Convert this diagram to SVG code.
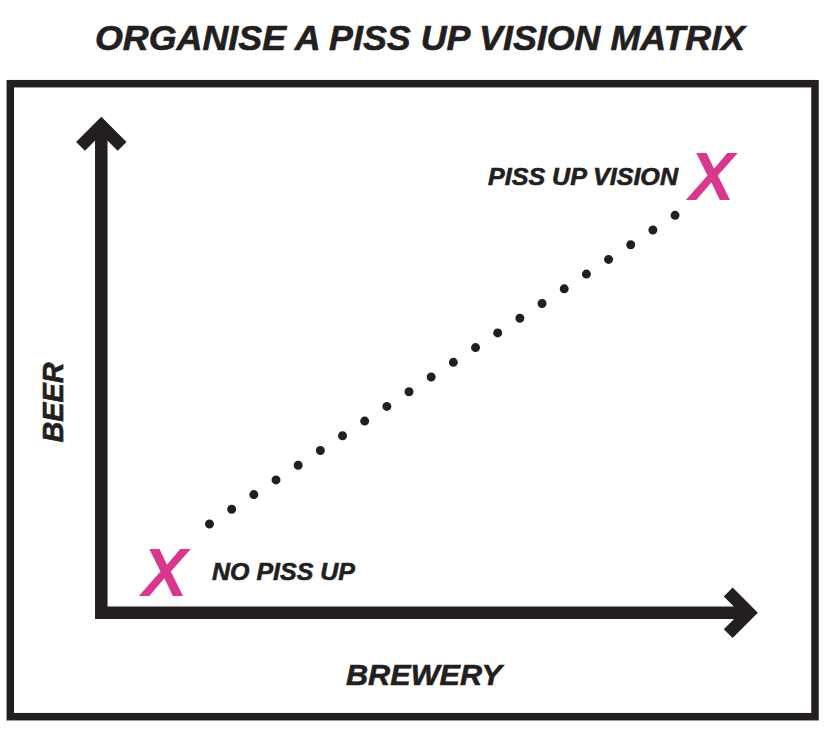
<svg xmlns="http://www.w3.org/2000/svg" width="830" height="730" viewBox="0 0 830 730">
<style>
.lbl{font-family:"Liberation Sans","DejaVu Sans",sans-serif;font-weight:bold;font-style:italic;fill:#231F20;stroke:#231F20;stroke-width:0.6}
.mark{font-family:"Liberation Sans","DejaVu Sans",sans-serif;font-weight:bold;font-style:italic;fill:#D9368E}
.ax{fill:none;stroke:#231F20;stroke-width:12.5;stroke-linejoin:miter;stroke-linecap:butt}
</style>
<rect width="830" height="730" fill="#FFFFFF"/>
<g id="title">
<text class="lbl" x="95" y="50" font-size="35" textLength="650" lengthAdjust="spacingAndGlyphs">ORGANISE A PISS UP VISION MATRIX</text>
</g>
<g id="frame">
<rect x="10.3" y="83.7" width="804.7" height="633" fill="none" stroke="#231F20" stroke-width="7.5"/>
</g>
<g id="connectors">
<path class="ax" d="M101.3,125.5 V612.8 H749"/>
<polyline class="ax" points="80.5,146.3 101.3,125.5 122.1,146.3"/>
<polyline class="ax" points="728.2,592 749,612.8 728.2,633.6"/>
<line x1="209.5" y1="524" x2="676" y2="214.7" stroke="#231F20" stroke-width="9" stroke-linecap="round" stroke-dasharray="0 26.6"/>
</g>
<g id="axis-y">
<text class="lbl" transform="translate(63,402.5) rotate(-90)" text-anchor="middle" font-size="30" textLength="80" lengthAdjust="spacingAndGlyphs">BEER</text>
</g>
<g id="axis-x">
<text class="lbl" x="346" y="685" font-size="30" textLength="156" lengthAdjust="spacingAndGlyphs">BREWERY</text>
</g>
<g id="vision">
<text class="lbl" x="488" y="185" font-size="23" textLength="190" lengthAdjust="spacingAndGlyphs">PISS UP VISION</text>
<text class="mark" x="689" y="200" font-size="68">X</text>
</g>
<g id="no-piss-up">
<text class="lbl" x="212" y="580" font-size="24" textLength="143" lengthAdjust="spacingAndGlyphs">NO PISS UP</text>
<text class="mark" x="142" y="596" font-size="68">X</text>
</g>
</svg>
